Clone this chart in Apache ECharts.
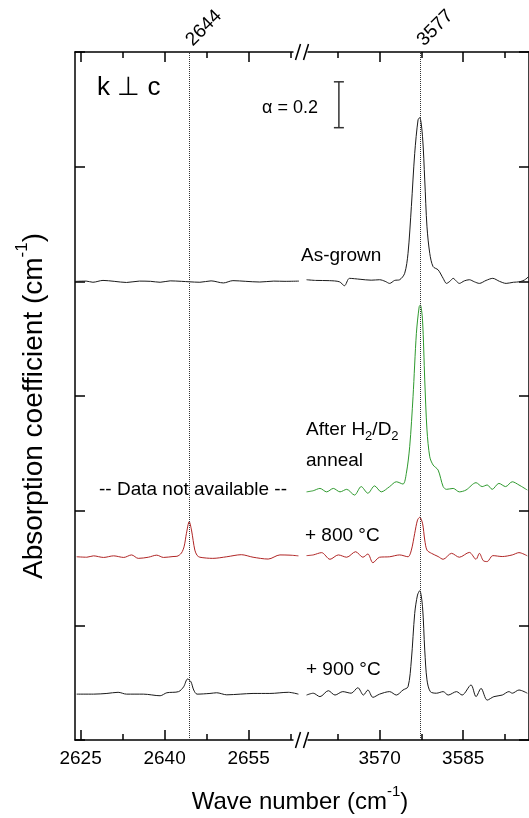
<!DOCTYPE html>
<html><head><meta charset="utf-8">
<script src="https://cdn.jsdelivr.net/npm/echarts@6/dist/echarts.min.js"></script>
<style>html,body{margin:0;padding:0;background:#fff}#c{width:529px;height:818px}</style>
</head><body><div id="c"></div>
<script>
const FONT = '"Liberation Sans", Arial, sans-serif';

// axis ranges and ticks
const leftRange = [2624, 2664.18];
const rightRange = [3556.8, 3596.8];
const leftMajorTicks = [2625, 2640, 2655];
const leftMinorTicks = [2632.5, 2647.5, 2662.5];
const rightMajorTicks = [3570, 3585];
const rightMinorTicks = [3562.5, 3577.5, 3592.5];
const peakLeft = [2644.35];
const peakRight = [3577.3];
const yMin = 0, yMax = 3, yInterval = 0.5;
const scaleBar = [[3562.7, 2.67], [3562.7, 2.87]];

// spectra: [wave number, absorption (offset)]
const asGrownLeft = [[2624.2,2.0],[2626,2.001],[2627.2,1.996],[2629,2.004],[2631,2.0],[2633.2,1.995],[2635.5,2.001],[2637.5,2.0],[2639.2,1.996],[2641,2.002],[2643,2.0],[2644.4,1.998],[2646.3,1.996],[2648.3,2.002],[2650.5,1.993],[2652.2,2.003],[2654.5,2.0],[2657,1.997],[2659.5,2.001],[2661.5,2.0],[2664,2.001]];
const asGrownRight = [[3556.9,2.007],[3558.5,2.004],[3561.0,2.003],[3562.8,1.998],[3563.7,1.981],[3564.6,2.013],[3566.5,2.009],[3568.5,2.005],[3570.0,2.007],[3571.0,2.0],[3571.8,1.991],[3572.7,2.004],[3573.6,2.007],[3574.5,2.035],[3575.1,2.122],[3575.7,2.326],[3576.3,2.558],[3576.9,2.704],[3577.2,2.714],[3577.7,2.631],[3578.1,2.442],[3578.5,2.238],[3579.0,2.122],[3579.6,2.064],[3580.5,2.05],[3581.4,2.013],[3582.0,1.991],[3582.6,2.0],[3583.2,2.013],[3583.8,2.0],[3584.3,1.991],[3585.2,2.002],[3586.1,2.007],[3587.0,1.998],[3587.9,1.991],[3589.1,2.004],[3590.3,2.013],[3591.5,2.0],[3592.7,1.991],[3594.0,1.996],[3595.1,1.998],[3596.0,2.006],[3596.7,2.02]];
const annealRight = [[3556.9,1.082],[3558.1,1.087],[3559.3,1.097],[3560.5,1.082],[3561.7,1.097],[3562.9,1.082],[3564.1,1.093],[3565.5,1.068],[3566.7,1.105],[3567.9,1.076],[3569.1,1.108],[3570.3,1.082],[3571.8,1.105],[3573.0,1.126],[3574.2,1.116],[3574.8,1.163],[3575.4,1.279],[3576.0,1.497],[3576.6,1.773],[3577.1,1.889],[3577.3,1.897],[3577.7,1.831],[3578.1,1.570],[3578.5,1.352],[3579.0,1.235],[3579.6,1.199],[3580.5,1.177],[3581.4,1.105],[3582.0,1.093],[3583.2,1.097],[3584.3,1.082],[3585.5,1.09],[3587.3,1.122],[3588.4,1.105],[3589.3,1.112],[3590.2,1.093],[3591.4,1.119],[3592.6,1.105],[3593.8,1.126],[3595.0,1.112],[3596.5,1.09]];
const t800Left = [[2624.3,0.799],[2626.1,0.797],[2627.3,0.803],[2629.1,0.796],[2630.9,0.803],[2632.7,0.796],[2634.1,0.807],[2635.3,0.792],[2637.1,0.797],[2638.6,0.806],[2639.8,0.796],[2641.5,0.8],[2642.2,0.801],[2643.0,0.815],[2643.5,0.845],[2643.9,0.901],[2644.4,0.952],[2644.8,0.916],[2645.1,0.87],[2645.4,0.828],[2645.8,0.805],[2646.3,0.797],[2648.6,0.792],[2651.1,0.799],[2653.7,0.808],[2655.8,0.797],[2658.5,0.789],[2660.6,0.807],[2662.4,0.806],[2663.9,0.803]];
const t800Right = [[3556.9,0.804],[3558.1,0.807],[3559.6,0.817],[3561.1,0.788],[3562.6,0.807],[3564.1,0.797],[3565.7,0.821],[3567.0,0.797],[3567.9,0.811],[3568.8,0.773],[3570.0,0.797],[3571.8,0.799],[3573.6,0.807],[3575.1,0.799],[3575.7,0.828],[3576.3,0.901],[3576.8,0.959],[3577.2,0.971],[3577.7,0.945],[3578.1,0.872],[3578.5,0.828],[3579.3,0.814],[3580.5,0.80],[3581.4,0.788],[3582.9,0.814],[3584.3,0.797],[3586.1,0.818],[3587.3,0.788],[3587.9,0.814],[3588.6,0.782],[3589.3,0.778],[3590.3,0.804],[3592.0,0.80],[3593.8,0.807],[3595.0,0.817],[3596.5,0.803]];
const t900Left = [[2624.3,0.2],[2627.3,0.2],[2629.7,0.203],[2631.7,0.208],[2633.2,0.2],[2636.2,0.2],[2639.2,0.193],[2640.4,0.206],[2642.5,0.211],[2643.4,0.232],[2644.1,0.266],[2644.7,0.254],[2645.2,0.218],[2645.8,0.2],[2648.1,0.203],[2649.3,0.206],[2651.1,0.197],[2653.5,0.2],[2655.8,0.203],[2658.8,0.203],[2662.1,0.208],[2663.9,0.2]];
const t900Right = [[3556.9,0.196],[3558.1,0.204],[3559.3,0.189],[3560.8,0.215],[3562.0,0.196],[3563.4,0.211],[3564.9,0.204],[3566.1,0.228],[3567.1,0.196],[3567.9,0.218],[3568.8,0.186],[3570.0,0.2],[3571.8,0.211],[3573.0,0.196],[3574.2,0.218],[3575.1,0.232],[3575.7,0.349],[3576.3,0.552],[3576.8,0.632],[3577.2,0.651],[3577.7,0.581],[3578.1,0.392],[3578.5,0.262],[3579.1,0.211],[3580.2,0.204],[3581.4,0.211],[3582.3,0.196],[3583.8,0.211],[3584.8,0.196],[3586.4,0.24],[3587.3,0.189],[3588.2,0.225],[3589.3,0.174],[3590.5,0.189],[3592.0,0.196],[3593.2,0.211],[3593.8,0.204],[3595.0,0.218],[3596.5,0.204]];

const BLACK = '#1a1a1a', GREEN = '#2e9a2e', RED = '#b02525';

const chart = echarts.init(document.getElementById('c'), null, {renderer: 'canvas'});
const axLine = {show: true, onZero: false, lineStyle: {color: '#000', width: 1.5}};
const tickStyle = {color: '#000', width: 1.5};

function xAx(grid, range, pos, ticks, len, withLine, label) {
  return {
    gridIndex: grid, type: 'value', position: pos, min: range[0], max: range[1],
    axisLine: withLine ? axLine : {show: false, onZero: false},
    axisTick: {show: true, inside: true, length: len, customValues: ticks, lineStyle: tickStyle},
    axisLabel: label || {show: false},
    splitLine: {show: false}
  };
}
const bottomLabel = (vals) => ({show: true, customValues: vals, fontSize: 19, color: '#000', fontFamily: FONT, margin: 9, formatter: v => String(v)});
const topLabel = (vals) => ({show: true, customValues: vals, fontSize: 19, color: '#000', fontFamily: FONT, margin: 9, rotate: -45, formatter: v => String(Math.round(v))});

function yAx(grid, pos) {
  return {
    gridIndex: grid, type: 'value', position: pos, min: yMin, max: yMax, interval: yInterval,
    axisLine: axLine,
    axisTick: {show: true, inside: true, length: 10, lineStyle: tickStyle},
    axisLabel: {show: false}, splitLine: {show: false}
  };
}
function line(data, xi, yi, color, extra) {
  return Object.assign({
    type: 'line', data, xAxisIndex: xi, yAxisIndex: yi, showSymbol: false, symbol: 'none',
    smooth: 0.3, lineStyle: {color, width: 1}, itemStyle: {color}, silent: true, animation: false
  }, extra || {});
}
const dotted = (vals) => ({
  silent: true, symbol: ['none', 'none'], label: {show: false}, animation: false,
  lineStyle: {type: 'dotted', color: '#333', width: 1},
  data: vals.map(v => ({xAxis: v}))
});

const graphics = [];
// axis breaks
[52, 740].forEach(y => {
  graphics.push({type: 'rect', shape: {x: 293.5, y: y - 2, width: 14, height: 4}, style: {fill: '#fff'}, z: 100});
  [295.5, 303.5].forEach(x => graphics.push({type: 'line', shape: {x1: x, y1: y + 8, x2: x + 5, y2: y - 8}, style: {stroke: '#000', lineWidth: 1.5}, z: 101}));
});
const txt = (text, x, y, size, extra) => Object.assign({type: 'text', x, y, z: 110, style: Object.assign({text, fontSize: size, fontFamily: FONT, fill: '#000', align: 'left', verticalAlign: 'middle'}, extra || {})});
const richTitle = (size) => ({t: {fontSize: size, fontFamily: FONT, lineHeight: size + 6, verticalAlign: 'bottom'}, s: {fontSize: Math.round(size * 0.62), fontFamily: FONT, lineHeight: size + 6, verticalAlign: 'top'}});
graphics.push(txt('k \u22A5 c', 97, 88, 26));
graphics.push(txt('\u03B1 = 0.2', 262, 108, 18));
graphics.push(txt('As-grown', 301, 256, 19));
graphics.push(txt('{t|After H}{s|2}{t|/D}{s|2}', 306, 430, 19, {rich: {t: {fontSize: 19, fontFamily: FONT, lineHeight: 26, verticalAlign: 'middle'}, s: {fontSize: 13, fontFamily: FONT, lineHeight: 26, verticalAlign: 'bottom'}}}));
graphics.push(txt('anneal', 306, 461, 19));
graphics.push(txt('-- Data not available --', 99, 490, 19));
graphics.push(txt('+ 800 \u00B0C', 305, 536, 19));
graphics.push(txt('+ 900 \u00B0C', 306, 670, 19));
graphics.push(txt('{t|Wave number (cm}{s|-1}{t|)}', 300, 799, 24, {align: 'center', rich: richTitle(24)}));
graphics.push(Object.assign(txt('{t|Absorption coefficient (cm}{s|-1}{t|)}', 31, 406, 28, {align: 'center', rich: richTitle(28)}), {rotation: Math.PI / 2}));

chart.setOption({
  animation: false,
  backgroundColor: '#fff',
  grid: [
    {left: 75, top: 52, width: 225, height: 688},
    {left: 306, top: 52, width: 224, height: 688}
  ],
  xAxis: [
    xAx(0, leftRange, 'bottom', leftMajorTicks, 10, true, bottomLabel(leftMajorTicks)),
    xAx(0, leftRange, 'bottom', leftMinorTicks, 6, false),
    xAx(0, leftRange, 'top', leftMajorTicks, 10, true, topLabel(peakLeft)),
    xAx(0, leftRange, 'top', leftMinorTicks, 6, false),
    xAx(1, rightRange, 'bottom', rightMajorTicks, 10, true, bottomLabel(rightMajorTicks)),
    xAx(1, rightRange, 'bottom', rightMinorTicks, 6, false),
    xAx(1, rightRange, 'top', rightMajorTicks, 10, true, topLabel(peakRight)),
    xAx(1, rightRange, 'top', rightMinorTicks, 6, false)
  ],
  yAxis: [yAx(0, 'left'), yAx(1, 'right')],
  series: [
    line(asGrownLeft, 0, 0, BLACK, {markLine: dotted(peakLeft)}),
    line(asGrownRight, 4, 1, BLACK, {markLine: dotted(peakRight)}),
    line(annealRight, 4, 1, GREEN),
    line(t800Left, 0, 0, RED),
    line(t800Right, 4, 1, RED),
    line(t900Left, 0, 0, BLACK),
    line(t900Right, 4, 1, BLACK),
    {type: 'line', data: scaleBar, xAxisIndex: 4, yAxisIndex: 1, symbol: 'rect', symbolSize: [10, 1.5], showSymbol: true,
     lineStyle: {color: '#333', width: 1.5}, itemStyle: {color: '#333'}, silent: true, animation: false}
  ],
  graphic: graphics
});
</script></body></html>
